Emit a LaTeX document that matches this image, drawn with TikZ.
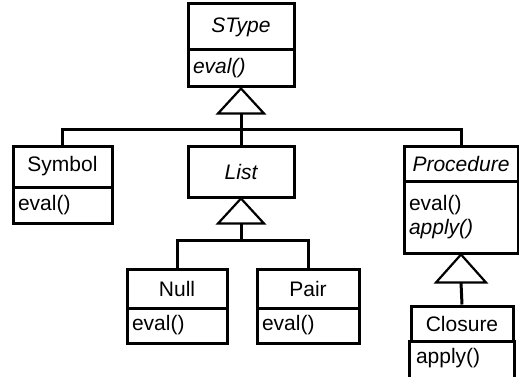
\documentclass[tikz,border=0pt]{standalone}
\usepackage{fontspec}
\setmainfont{Liberation Sans}
\usetikzlibrary{calc}
\tikzset{
  box/.style={draw, line width=3pt, inner sep=0pt, minimum width=#1},
  namebox/.style={box=#1, align=center},
  methbox/.style={draw, line width=3pt, inner xsep=5pt, inner ysep=0pt, text width=#1-10pt, align=left},
  conn/.style={line width=3pt},
  tri/.style={line width=2.2pt, fill=white, line join=miter},
  itfont/.style={font=\fontsize{21}{24}\selectfont\itshape},
}
\begin{document}
\begin{tikzpicture}[x=1pt, y=-1pt, font=\fontsize{21}{24}\selectfont]
\useasboundingbox (0,0) rectangle (519,377);
% SType
\node[namebox=106pt, minimum height=46pt, itfont] (stypeN) at (241,27) {SType};
\node[methbox=106pt, minimum height=37pt, itfont] (stypeM) at (241,68.5) {eval()};
% Symbol
\node[namebox=99pt, minimum height=41pt] (symN) at (62.5,166.5) {Symbol};
\node[methbox=99pt, minimum height=36pt] (symM) at (62.5,205) {eval()};
% List
\node[namebox=106pt, minimum height=51pt, itfont] (listN) at (241,171.5) {List};
% Procedure
\node[namebox=114pt, minimum height=35pt, itfont] (procN) at (461,163.5) {Procedure};
\node[methbox=114pt, minimum height=72pt] (procM) at (461,217) {eval()\\\textit{apply()}};
% Null, Pair
\node[namebox=100pt, minimum height=39pt] (nullN) at (177,288.5) {Null};
\node[methbox=100pt, minimum height=35pt] (nullM) at (177,325.5) {eval()};
\node[namebox=102pt, minimum height=39pt] (pairN) at (308,288.5) {Pair};
\node[methbox=102pt, minimum height=35pt] (pairM) at (308,325.5) {eval()};
% Closure
\node[namebox=102pt, minimum height=35pt] (closN) at (462,323.5) {Closure};
\node[methbox=102pt, minimum height=34pt, draw=none] (closM) at (462,358) {apply()};
\draw[conn] (closM.north west) -- ($(closM.south west)+(0,30)$);
\draw[conn] (closM.north east) -- ($(closM.south east)+(0,30)$);
% generalization SType
\coordinate (bus1) at (0,130);
\draw[tri] (stypeM.south) -- ++(-23,25) -- ++(46,0) -- cycle;
\coordinate (t1) at ($(stypeM.south)+(0,25)$);
\draw[conn] (t1) -- (listN.north);
\draw[conn] (symN.north) -- (symN.north |- bus1) -- (procN.north |- bus1) -- (procN.north);
% generalization List
\coordinate (bus2) at (0,240);
\draw[tri] (listN.south) -- ++(-23,25) -- ++(46,0) -- cycle;
\coordinate (t2) at ($(listN.south)+(0,25)$);
\draw[conn] (t2) -- (t2 |- bus2);
\draw[conn] (nullN.north) -- (nullN.north |- bus2) -- (pairN.north |- bus2) -- (pairN.north);
% generalization Procedure
\draw[tri] (procM.south) -- ++(-25,28) -- ++(50,0) -- cycle;
\coordinate (t3) at ($(procM.south)+(0,28)$);
\draw[conn] (t3) -- (closN.north);
\end{tikzpicture}
\end{document}
